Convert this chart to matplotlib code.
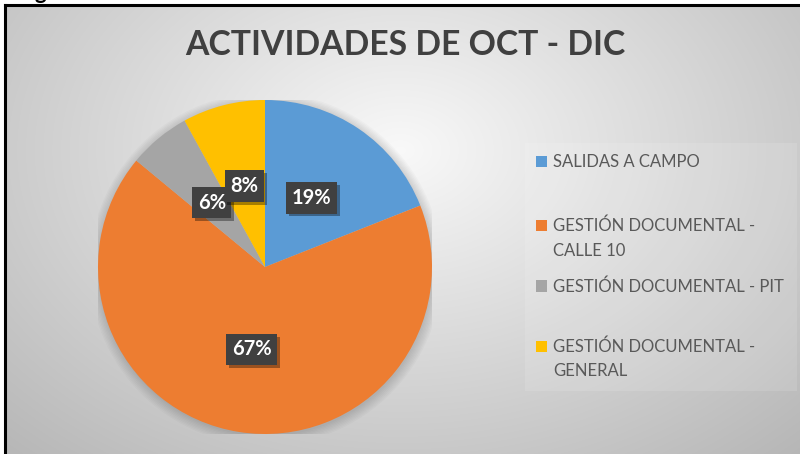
import matplotlib

matplotlib.use("Agg")
import matplotlib.pyplot as plt
import matplotlib.patheffects as pe
import numpy as np
from matplotlib.lines import Line2D
from matplotlib.patches import Circle, Rectangle

W, H = 800, 454

title = "ACTIVIDADES DE OCT - DIC"
categories = [
    "SALIDAS A CAMPO",
    "GESTIÓN DOCUMENTAL -\nCALLE 10",
    "GESTIÓN DOCUMENTAL - PIT",
    "GESTIÓN DOCUMENTAL -\nGENERAL",
]
shares = [19, 67, 6, 8]
colors = ["#5B9BD5", "#ED7D31", "#A5A5A5", "#FFC000"]

FONT = "Lato"


def fx(x):
    return x / W


def fy(y):
    return 1 - y / H


fig = plt.figure(figsize=(W / 100, H / 100), dpi=100)
fig.patch.set_facecolor("white")

# radial grey background inside the chart frame
frame_l, frame_t = 6, 6
bg = fig.add_axes([fx(frame_l), 0, 1 - fx(frame_l), fy(frame_t)])
bg.set_axis_off()
yy, xx = np.mgrid[frame_t:H, frame_l:W]
d = np.sqrt(((xx - 400) / 560.0) ** 2 + ((yy - 150) / 400.0) ** 2)
v = np.clip(0.975 - 0.25 * d, 0, 1)
bg.imshow(np.dstack([v, v, v]), aspect="auto", interpolation="bilinear")

# frame lines (left and top only visible)
fig.add_artist(Line2D([fx(frame_l - 1)] * 2, [0, fy(frame_t - 1.5)], color="black", lw=2.2, transform=fig.transFigure))
fig.add_artist(Line2D([fx(frame_l - 1.5), 1], [fy(frame_t - 1)] * 2, color="black", lw=2.2, transform=fig.transFigure))

# caption letter from the page above, cut by the top edge as in the source
fig.text(fx(40), fy(-1), "g", fontsize=16, fontweight="bold", family=FONT, ha="center", va="baseline", color="black")

fig.text(fx(405), fy(45), title, fontsize=24.3, fontweight="bold", family=FONT, color="#404040", ha="center", va="center")

# pie
cx, cy, R = 265, 267, 167
ax = fig.add_axes([fx(cx - R), fy(cy + R), 2 * R / W, 2 * R / H])
ax.set_axis_off()

# soft shadow around the pie
for i in range(8):
    ax.add_patch(Circle((0.005, -0.012), 1.0 + 0.008 * i, color="black", alpha=0.018, lw=0, zorder=0))

wedges, _, autotexts = ax.pie(
    shares,
    colors=colors,
    startangle=90,
    counterclock=False,
    radius=1.0,
    autopct=lambda p: f"{p:.0f}%",
    pctdistance=0.5,
    wedgeprops=dict(linewidth=0),
    textprops=dict(color="white", fontsize=14.5, fontweight="bold", family=FONT),
)
for t in autotexts:
    t.set_bbox(dict(boxstyle="square,pad=0.28", facecolor="#404040", edgecolor="none"))
    t.get_bbox_patch().set_path_effects(
        [pe.SimplePatchShadow(offset=(2, -2), shadow_rgbFace="black", alpha=0.35), pe.Normal()]
    )
ax.set_xlim(-1, 1)
ax.set_ylim(-1, 1)

# legend
fig.add_artist(
    Rectangle((fx(525), fy(391)), fx(797) - fx(525), fy(143) - fy(391), transform=fig.transFigure,
              facecolor="white", alpha=0.12, edgecolor="none")
)
first_baselines = [167, 231, 292, 352]
line_gap = 24.5
for label, color, base in zip(categories, colors, first_baselines):
    fig.add_artist(
        Rectangle((fx(536), fy(base - 0.5)), fx(547) - fx(536), fy(base - 11.5) - fy(base - 0.5),
                  transform=fig.transFigure, facecolor=color, edgecolor="none")
    )
    for k, line in enumerate(label.split("\n")):
        fig.text(fx(553), fy(base + k * line_gap), line, fontsize=12, family=FONT, color="#595959",
                 ha="left", va="baseline")

fig.savefig("out.png", dpi=100)
